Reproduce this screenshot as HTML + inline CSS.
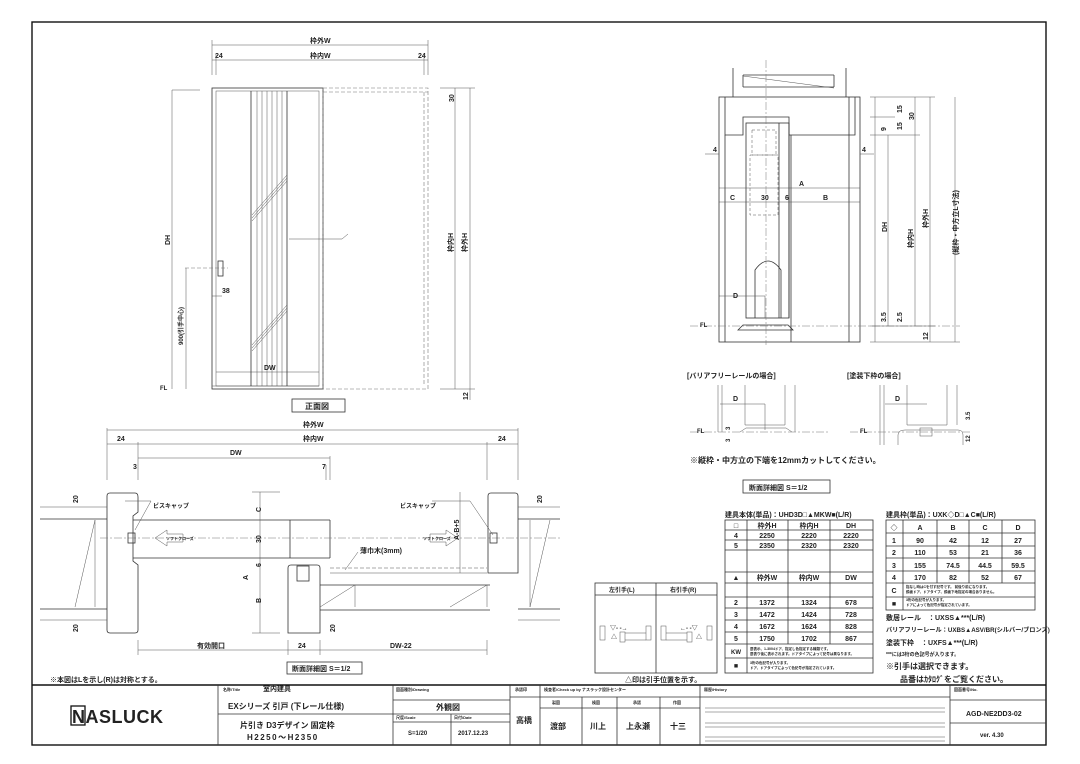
<!DOCTYPE html>
<html><head><meta charset="utf-8"><style>
html,body{margin:0;padding:0;background:#fff}
svg{display:block}
text{font-family:"Liberation Sans","Noto Sans CJK JP",sans-serif;fill:#222;font-weight:bold}
.l{stroke:#333;stroke-width:0.8;fill:none}
.t{stroke:#555;stroke-width:0.5;fill:none}
.d{stroke:#777;stroke-width:0.6;fill:none;stroke-dasharray:4 2}
.c{stroke:#777;stroke-width:0.5;fill:none;stroke-dasharray:8 2 2 2}
.b{stroke:#111;stroke-width:1.4;fill:none}
</style></head><body>
<svg width="1080" height="764" viewBox="0 0 1080 764" xmlns="http://www.w3.org/2000/svg">
<rect x="0" y="0" width="1080" height="764" fill="#fff"/>
<rect x="32" y="22" width="1014" height="723" class="b"/>

<!-- ===== Front elevation ===== -->
<g font-size="7">
<line x1="212" y1="45" x2="428" y2="45" class="t"/><text x="310" y="43">枠外W</text>
<line x1="212" y1="60" x2="428" y2="60" class="t"/><text x="310" y="58">枠内W</text>
<text x="215" y="58">24</text><text x="418" y="58">24</text>
<line x1="212" y1="40" x2="212" y2="75" class="t"/><line x1="216" y1="55" x2="216" y2="75" class="t"/>
<line x1="428" y1="40" x2="428" y2="75" class="t"/><line x1="424" y1="55" x2="424" y2="75" class="t"/>
</g>
<rect x="212" y="88" width="111" height="301" class="l"/>
<rect x="216" y="91" width="103" height="295" class="t"/>
<line x1="216" y1="372" x2="319" y2="372" class="t"/>
<line x1="212" y1="386" x2="319" y2="386" class="t"/>
<g class="l">
<line x1="251" y1="91" x2="251" y2="386"/><line x1="287" y1="91" x2="287" y2="386"/>
</g>
<g class="t">
<line x1="257" y1="91" x2="257" y2="386"/><line x1="262" y1="91" x2="262" y2="386"/>
<line x1="267" y1="91" x2="267" y2="386"/><line x1="272" y1="91" x2="272" y2="386"/>
<line x1="277" y1="91" x2="277" y2="386"/><line x1="282" y1="91" x2="282" y2="386"/>
<line x1="252" y1="215" x2="287" y2="175"/><line x1="252" y1="218" x2="287" y2="178"/><line x1="252" y1="221" x2="287" y2="181"/>
<line x1="252" y1="345" x2="287" y2="305"/><line x1="252" y1="348" x2="287" y2="308"/><line x1="252" y1="351" x2="287" y2="311"/>
<line x1="289" y1="239" x2="342" y2="239"/><line x1="342" y1="239" x2="348" y2="234"/>
</g>
<rect x="323" y="88" width="105" height="301" class="d"/>
<line x1="424" y1="92" x2="424" y2="386" class="d"/>
<line x1="323" y1="92" x2="428" y2="92" class="d"/>
<rect x="218" y="261" width="5" height="15" class="l"/>
<line x1="185" y1="268" x2="228" y2="268" class="d"/>
<g font-size="7">
<line x1="172" y1="90" x2="200" y2="90" class="t"/><line x1="172" y1="90" x2="172" y2="389" class="t"/>
<text transform="translate(170,245) rotate(-90)">DH</text>
<line x1="186" y1="268" x2="186" y2="389" class="t"/>
<text transform="translate(183,345) rotate(-90)" font-size="6">900(引手中心)</text>
<text x="222" y="293">38</text><line x1="212" y1="296" x2="222" y2="296" class="t"/>
<text x="160" y="390" font-size="6">FL</text>
<line x1="455" y1="88" x2="455" y2="389" class="t"/><line x1="470" y1="88" x2="470" y2="400" class="t"/>
<line x1="440" y1="88" x2="475" y2="88" class="t"/><line x1="440" y1="389" x2="475" y2="389" class="t"/>
<text transform="translate(454,102) rotate(-90)">30</text>
<text transform="translate(453,252) rotate(-90)">枠内H</text>
<text transform="translate(467,252) rotate(-90)">枠外H</text>
<text transform="translate(468,400) rotate(-90)">12</text>
<text x="264" y="370">DW</text>
</g>
<rect x="292" y="399" width="53" height="13" class="l"/>
<text x="305" y="409" font-size="8">正面図</text>

<!-- ===== Plan section ===== -->
<g font-size="7">
<line x1="107" y1="430" x2="518" y2="430" class="t"/><text x="303" y="427">枠外W</text>
<line x1="107" y1="444" x2="518" y2="444" class="t"/><text x="303" y="441">枠内W</text>
<text x="117" y="441">24</text><text x="498" y="441">24</text>
<line x1="138" y1="458" x2="330" y2="458" class="t"/><text x="230" y="455">DW</text>
<text x="133" y="469">3</text><text x="322" y="469">7</text>
<line x1="107" y1="428" x2="107" y2="480" class="t"/><line x1="518" y1="428" x2="518" y2="480" class="t"/>
<line x1="138" y1="442" x2="138" y2="480" class="t"/><line x1="487" y1="442" x2="487" y2="480" class="t"/>
<line x1="330" y1="456" x2="330" y2="480" class="t"/><line x1="326" y1="465" x2="326" y2="480" class="t"/>
</g>
<path d="M110,493 H135 Q138,493 138,497 V512 L133,516 V561 L138,565 V630 Q138,633 135,633 H110 Q107,633 107,630 V496 Q107,493 110,493 Z" class="l"/>
<path d="M491,493 H515 Q518,493 518,496 V573 H488 V496 Q488,493 491,493 Z" class="l"/>
<path d="M291,565 H317 Q320,565 320,568 V633 H288 V568 Q288,565 291,565 Z" class="l"/>
<g class="l">
<line x1="133" y1="520" x2="330" y2="520"/><line x1="133" y1="558" x2="330" y2="558"/>
<line x1="290" y1="520" x2="290" y2="558"/><line x1="330" y1="520" x2="330" y2="558"/>
<line x1="40" y1="519" x2="107" y2="519"/><line x1="40" y1="609" x2="107" y2="609"/>
<line x1="518" y1="519" x2="560" y2="519"/><line x1="518" y1="609" x2="560" y2="609"/>
<line x1="320" y1="585" x2="490" y2="585"/><line x1="320" y1="610" x2="490" y2="610"/>
</g>
<g class="t">
<line x1="40" y1="507" x2="107" y2="507"/><line x1="40" y1="620" x2="107" y2="620"/>
<line x1="518" y1="507" x2="560" y2="507"/><line x1="518" y1="620" x2="560" y2="620"/>
<line x1="75" y1="607" x2="95" y2="520"/><line x1="95" y1="520" x2="95" y2="607"/>
<line x1="530" y1="607" x2="550" y2="520"/><line x1="530" y1="520" x2="530" y2="607"/>
<line x1="320" y1="607" x2="355" y2="585"/><line x1="487" y1="607" x2="487" y2="585"/><line x1="450" y1="607" x2="487" y2="585"/>
<line x1="355" y1="585" x2="355" y2="607"/>
<line x1="260" y1="492" x2="260" y2="633"/><line x1="252" y1="492" x2="280" y2="492"/><line x1="252" y1="633" x2="280" y2="633"/>
<line x1="460" y1="492" x2="460" y2="573"/>
<line x1="138" y1="650" x2="288" y2="650"/><line x1="288" y1="650" x2="320" y2="650"/><line x1="320" y1="650" x2="487" y2="650"/>
<line x1="288" y1="640" x2="288" y2="655"/><line x1="320" y1="640" x2="320" y2="655"/><line x1="487" y1="640" x2="487" y2="655"/><line x1="138" y1="640" x2="138" y2="655"/>
<line x1="330" y1="568" x2="487" y2="568" stroke-dasharray="4 2"/>
<line x1="330" y1="573" x2="487" y2="573"/>
<line x1="125" y1="501" x2="151" y2="501"/><line x1="151" y1="501" x2="135" y2="530"/>
<line x1="432" y1="501" x2="470" y2="501"/><line x1="470" y1="501" x2="493" y2="535"/>
<line x1="358" y1="552" x2="345" y2="570"/>
</g>
<line x1="100" y1="538" x2="560" y2="538" class="c"/>
<g class="t">
<path d="M155,538 l12,-8 v4 h16 v8 h-16 v4 z"/>
<path d="M458,538 l-12,-8 v4 h-16 v8 h16 v4 z"/>
</g>
<rect x="128" y="533" width="7" height="10" class="l"/>
<rect x="490" y="533" width="7" height="10" class="l"/>
<rect x="297" y="566" width="12" height="15" class="l"/>
<g font-size="6">
<text x="153" y="508">ビスキャップ</text><text x="400" y="508">ビスキャップ</text>
<text x="166" y="540" font-size="4">ソフトクローズ</text><text x="423" y="540" font-size="4">ソフトクローズ</text>
<text x="360" y="553" font-size="7">薄巾木(3mm)</text>
</g>
<g font-size="7">
<text transform="translate(78,503) rotate(-90)">20</text><text transform="translate(78,632) rotate(-90)">20</text>
<text transform="translate(542,503) rotate(-90)">20</text><text transform="translate(335,632) rotate(-90)">20</text>
<text transform="translate(261,512) rotate(-90)">C</text><text transform="translate(261,543) rotate(-90)">30</text>
<text transform="translate(261,567) rotate(-90)">6</text><text transform="translate(248,580) rotate(-90)">A</text>
<text transform="translate(261,603) rotate(-90)">B</text><text transform="translate(459,540) rotate(-90)">A-B+5</text>
<text x="197" y="648">有効開口</text><text x="298" y="648">24</text><text x="390" y="648">DW-22</text>
<text x="50" y="682">※本図はLを示し(R)は対称とする。</text>
</g>
<rect x="287" y="662" width="75" height="12" class="l"/>
<text x="292" y="671" font-size="7">断面詳細図 S＝1/2</text>

<!-- ===== Right vertical section ===== -->
<g class="l">
<line x1="733" y1="68" x2="733" y2="97"/><line x1="846" y1="68" x2="846" y2="97"/>
<line x1="743" y1="75" x2="834" y2="75"/><line x1="743" y1="87" x2="834" y2="87"/>
<line x1="743" y1="75" x2="743" y2="87"/><line x1="834" y1="75" x2="834" y2="87"/>
<rect x="719" y="97" width="141" height="245"/>
<path d="M725,97 V135 H743 V117 H789 V135 H855 V97"/>
<rect x="746" y="123" width="43" height="195"/>
<line x1="779" y1="123" x2="779" y2="318"/><line x1="789" y1="123" x2="789" y2="318"/>
<line x1="791" y1="135" x2="791" y2="342"/><line x1="849" y1="97" x2="849" y2="342"/><line x1="725" y1="135" x2="725" y2="342"/>
<path d="M755,318 V270 Q768,252 781,270 V318" />
<path d="M738,330 l5,-5 h45 l5,5 z"/>
</g>
<g class="t">
<line x1="743" y1="76" x2="834" y2="88" />
<rect x="752" y="130" width="24" height="25" stroke-dasharray="3 2"/>
<rect x="750" y="155" width="28" height="60" stroke-dasharray="3 2"/>
<line x1="719" y1="188" x2="860" y2="188"/><line x1="719" y1="202" x2="860" y2="202"/>
<line x1="719" y1="296" x2="765" y2="296"/><line x1="765" y1="296" x2="765" y2="318"/>
<line x1="705" y1="154" x2="719" y2="154"/><line x1="860" y1="154" x2="874" y2="154"/>
</g>
<line x1="766" y1="60" x2="766" y2="345" class="c"/>
<line x1="690" y1="326" x2="960" y2="326" class="c"/>
<g font-size="7">
<text x="713" y="152">4</text><text x="862" y="152">4</text>
<text x="799" y="186">A</text><text x="730" y="200">C</text><text x="761" y="200">30</text><text x="785" y="200">6</text><text x="823" y="200">B</text>
<text x="733" y="298">D</text><text x="700" y="327" font-size="6">FL</text>
<g class="t">
<line x1="875" y1="97" x2="875" y2="342"/><line x1="888" y1="135" x2="888" y2="326"/>
<line x1="915" y1="97" x2="915" y2="326"/><line x1="930" y1="97" x2="930" y2="342"/><line x1="955" y1="97" x2="955" y2="342"/>
<line x1="870" y1="97" x2="935" y2="97"/><line x1="870" y1="135" x2="920" y2="135"/><line x1="870" y1="342" x2="960" y2="342"/>
<line x1="870" y1="117" x2="895" y2="117"/><line x1="870" y1="326" x2="935" y2="326"/>
</g>
<text transform="translate(902,113) rotate(-90)">15</text><text transform="translate(902,130) rotate(-90)">15</text>
<text transform="translate(914,120) rotate(-90)">30</text><text transform="translate(886,131) rotate(-90)">9</text>
<text transform="translate(887,232) rotate(-90)">DH</text><text transform="translate(913,248) rotate(-90)">枠内H</text>
<text transform="translate(928,228) rotate(-90)">枠外H</text><text transform="translate(958,255) rotate(-90)">(縦枠・中方立L寸法)</text>
<text transform="translate(886,322) rotate(-90)">3.5</text><text transform="translate(902,322) rotate(-90)">2.5</text>
<text transform="translate(928,340) rotate(-90)">12</text>
</g>

<!-- small details -->
<g font-size="7">
<text x="687" y="378">[バリアフリーレールの場合]</text><text x="847" y="378">[塗装下枠の場合]</text>
</g>
<g class="t">
<line x1="718" y1="385" x2="718" y2="432"/><line x1="722" y1="385" x2="722" y2="432"/>
<line x1="745" y1="385" x2="745" y2="425"/><line x1="785" y1="385" x2="785" y2="425"/><line x1="795" y1="385" x2="795" y2="432"/>
<line x1="745" y1="425" x2="785" y2="425"/><line x1="720" y1="404" x2="765" y2="404"/><line x1="765" y1="404" x2="765" y2="430"/>
<path d="M740,432 l6,-4 h40 l6,4"/>
<line x1="880" y1="385" x2="880" y2="445"/><line x1="884" y1="385" x2="884" y2="445"/>
<line x1="907" y1="385" x2="907" y2="425"/><line x1="947" y1="385" x2="947" y2="425"/><line x1="957" y1="385" x2="957" y2="425"/>
<line x1="907" y1="425" x2="947" y2="425"/><line x1="885" y1="404" x2="927" y2="404"/>
<path d="M898,445 V435 Q898,430 905,430 H958 Q963,430 963,435 V445"/>
<rect x="920" y="428" width="12" height="8"/>
</g>
<line x1="690" y1="432" x2="830" y2="432" class="c"/><line x1="850" y1="432" x2="970" y2="432" class="c"/>
<g font-size="7">
<text x="733" y="401">D</text><text x="895" y="401">D</text>
<text x="697" y="433" font-size="6">FL</text><text x="860" y="433" font-size="6">FL</text>
<text transform="translate(730,430) rotate(-90)" font-size="6">3</text><text transform="translate(730,442) rotate(-90)" font-size="6">3</text>
<text transform="translate(970,420) rotate(-90)" font-size="6">3.5</text><text transform="translate(970,442) rotate(-90)" font-size="6">12</text>
<text x="690" y="463" font-size="8">※縦枠・中方立の下端を12mmカットしてください。</text>
</g>
<rect x="743" y="480" width="87" height="13" class="l"/>
<text x="749" y="490" font-size="7">断面詳細図 S＝1/2</text>

<!-- hand box -->
<rect x="595" y="583" width="122" height="90" class="l"/>
<line x1="595" y1="595" x2="717" y2="595" class="l"/><line x1="656" y1="583" x2="656" y2="673" class="l"/>
<g font-size="6"><text x="609" y="592">左引手(L)</text><text x="670" y="592">右引手(R)</text></g>
<g class="t">
<rect x="600" y="626" width="5" height="14"/><rect x="646" y="626" width="5" height="14"/><rect x="620" y="632" width="5" height="10"/>
<line x1="625" y1="633" x2="646" y2="633"/><line x1="625" y1="640" x2="646" y2="640"/>
<rect x="661" y="626" width="5" height="14"/><rect x="707" y="626" width="5" height="14"/><rect x="687" y="632" width="5" height="10"/>
<line x1="666" y1="633" x2="687" y2="633"/><line x1="666" y1="640" x2="687" y2="640"/>
</g>
<g font-size="6"><text x="610" y="630">▽- -→</text><text x="611" y="639">△</text><text x="680" y="630">←- -▽</text><text x="696" y="639">△</text></g>
<text x="625" y="682" font-size="7">△印は引手位置を示す。</text>

<!-- table 1 -->
<text x="725" y="517" font-size="7">建具本体(単品)：UHD3D□▲MKW■(L/R)</text>
<g class="l">
<rect x="725" y="520" width="148" height="153"/>
<line x1="725" y1="530" x2="873" y2="530"/><line x1="725" y1="540" x2="873" y2="540"/><line x1="725" y1="550" x2="873" y2="550"/>
<line x1="725" y1="572" x2="873" y2="572"/><line x1="725" y1="583" x2="873" y2="583"/><line x1="725" y1="597" x2="873" y2="597"/>
<line x1="725" y1="608" x2="873" y2="608"/><line x1="725" y1="620" x2="873" y2="620"/><line x1="725" y1="632" x2="873" y2="632"/>
<line x1="725" y1="644" x2="873" y2="644"/><line x1="725" y1="658" x2="873" y2="658"/>
<line x1="747" y1="520" x2="747" y2="673"/><line x1="788" y1="520" x2="788" y2="644"/><line x1="830" y1="520" x2="830" y2="644"/>
</g>
<g font-size="7" text-anchor="middle">
<text x="736" y="528">□</text><text x="767" y="528">枠外H</text><text x="809" y="528">枠内H</text><text x="851" y="528">DH</text>
<text x="736" y="538">4</text><text x="767" y="538">2250</text><text x="809" y="538">2220</text><text x="851" y="538">2220</text>
<text x="736" y="548">5</text><text x="767" y="548">2350</text><text x="809" y="548">2320</text><text x="851" y="548">2320</text>
<text x="736" y="580">▲</text><text x="767" y="580">枠外W</text><text x="809" y="580">枠内W</text><text x="851" y="580">DW</text>
<text x="736" y="605">2</text><text x="767" y="605">1372</text><text x="809" y="605">1324</text><text x="851" y="605">678</text>
<text x="736" y="617">3</text><text x="767" y="617">1472</text><text x="809" y="617">1424</text><text x="851" y="617">728</text>
<text x="736" y="629">4</text><text x="767" y="629">1672</text><text x="809" y="629">1624</text><text x="851" y="629">828</text>
<text x="736" y="641">5</text><text x="767" y="641">1750</text><text x="809" y="641">1702</text><text x="851" y="641">867</text>
<text x="736" y="654" font-size="6">KW</text><text x="736" y="668">■</text>
</g>
<g font-size="3.5"><text x="750" y="650">扉表示、1-3004ドア、指定し色指定する種類です。</text><text x="750" y="655">扉表り後に表示されます。ドアタイプによって記号は異なります。</text>
<text x="750" y="664">3桁の色記号が入ります。</text><text x="750" y="669">ドア、ドアタイプによって色記号が指定されています。</text></g>

<!-- table 2 -->
<text x="886" y="517" font-size="7">建具枠(単品)：UXK◇D□▲C■(L/R)</text>
<g class="l">
<rect x="886" y="520" width="149" height="90"/>
<line x1="886" y1="533" x2="1035" y2="533"/><line x1="886" y1="546" x2="1035" y2="546"/><line x1="886" y1="558" x2="1035" y2="558"/>
<line x1="886" y1="571" x2="1035" y2="571"/><line x1="886" y1="583" x2="1035" y2="583"/><line x1="886" y1="597" x2="1035" y2="597"/>
<line x1="903" y1="520" x2="903" y2="610"/><line x1="937" y1="520" x2="937" y2="583"/><line x1="969" y1="520" x2="969" y2="583"/><line x1="1002" y1="520" x2="1002" y2="583"/>
</g>
<g font-size="7" text-anchor="middle">
<text x="894" y="530">◇</text><text x="920" y="530">A</text><text x="953" y="530">B</text><text x="985" y="530">C</text><text x="1018" y="530">D</text>
<text x="894" y="543">1</text><text x="920" y="543">90</text><text x="953" y="543">42</text><text x="985" y="543">12</text><text x="1018" y="543">27</text>
<text x="894" y="555">2</text><text x="920" y="555">110</text><text x="953" y="555">53</text><text x="985" y="555">21</text><text x="1018" y="555">36</text>
<text x="894" y="568">3</text><text x="920" y="568">155</text><text x="953" y="568">74.5</text><text x="985" y="568">44.5</text><text x="1018" y="568">59.5</text>
<text x="894" y="580">4</text><text x="920" y="580">170</text><text x="953" y="580">82</text><text x="985" y="580">52</text><text x="1018" y="580">67</text>
<text x="894" y="593">C</text><text x="894" y="606">■</text>
</g>
<g font-size="3.5"><text x="906" y="588">指なし時はCを付す記号です。 前後り前になります。</text><text x="906" y="593">鏡板ドア、ドアタイプ、鏡板下地指定の場合ありません。</text>
<text x="906" y="601">3桁の色記号が入ります。</text><text x="906" y="606">ドアによって色記号が指定されています。</text></g>
<g font-size="7">
<text x="886" y="620">敷居レール　：UXSS▲***(L/R)</text>
<text x="886" y="632" font-size="6.2">バリアフリーレール：UXBS▲ASV/BR(シルバー/ブロンズ)</text>
<text x="886" y="645">塗装下枠　：UXFS▲***(L/R)</text>
<text x="886" y="656" font-size="5">***には3桁の色記号が入ります。</text>
<text x="886" y="669" font-size="8">※引手は選択できます。</text>
<text x="900" y="682" font-size="8">品番はｶﾀﾛｸﾞをご覧ください。</text>
</g>

<!-- ===== Title block ===== -->
<g class="b"><line x1="32" y1="685" x2="1046" y2="685"/></g>
<g class="l">
<line x1="218" y1="685" x2="218" y2="745"/><line x1="393" y1="685" x2="393" y2="745"/>
<line x1="510" y1="685" x2="510" y2="745"/><line x1="540" y1="685" x2="540" y2="745"/>
<line x1="700" y1="685" x2="700" y2="745"/><line x1="950" y1="685" x2="950" y2="745"/>
<line x1="218" y1="714" x2="510" y2="714"/><line x1="451" y1="714" x2="451" y2="745"/>
<line x1="393" y1="700" x2="510" y2="700"/><line x1="393" y1="722" x2="510" y2="722"/>
<line x1="510" y1="697" x2="540" y2="697"/><line x1="540" y1="697" x2="700" y2="697"/><line x1="540" y1="708" x2="700" y2="708"/>
<line x1="582" y1="697" x2="582" y2="745"/><line x1="617" y1="697" x2="617" y2="745"/><line x1="660" y1="697" x2="660" y2="745"/>
<line x1="700" y1="697" x2="950" y2="697"/>
<line x1="950" y1="700" x2="1046" y2="700"/><line x1="950" y1="723" x2="1046" y2="723"/>
</g>
<g class="t">
<line x1="705" y1="708" x2="945" y2="708"/><line x1="705" y1="712" x2="945" y2="712"/>
<line x1="705" y1="723" x2="945" y2="723"/><line x1="705" y1="727" x2="945" y2="727"/>
<line x1="705" y1="737" x2="945" y2="737"/><line x1="705" y1="741" x2="945" y2="741"/>
</g>
<text x="72" y="723" font-size="18" font-weight="bold" style="letter-spacing:0.5px">NASLUCK</text>
<rect x="71" y="706" width="14" height="19" fill="none" stroke="#111" stroke-width="1.3"/>
<g font-size="4"><text x="223" y="691">名称/Title</text><text x="396" y="691">図面種別/Drawing</text><text x="515" y="691">承認印</text>
<text x="544" y="691">検査者/Check up by ナスラック設計センター</text><text x="704" y="691">履歴/History</text><text x="954" y="691">図面番号/No.</text>
<text x="396" y="719">尺度/Scale</text><text x="454" y="719">日付/Date</text>
<text x="552" y="704">製図</text><text x="592" y="704">検図</text><text x="633" y="704">承認</text><text x="673" y="704">作図</text></g>
<g font-size="8">
<text x="263" y="691" font-size="7">室内建具</text>
<text x="228" y="709">EXシリーズ 引戸 (下レール仕様)</text>
<text x="240" y="728">片引き D3デザイン 固定枠</text>
<text x="247" y="740" style="letter-spacing:1.5px">H2250～H2350</text>
<text x="436" y="710">外観図</text>
<text x="408" y="735" font-size="6">S=1/20</text><text x="458" y="735" font-size="6">2017.12.23</text>
<text x="516" y="723">高橋</text>
<text x="550" y="729">渡部</text><text x="590" y="729">川上</text><text x="626" y="729">上永瀬</text><text x="670" y="729">十三</text>
<text x="966" y="716" font-size="7">AGD-NE2DD3-02</text><text x="980" y="737" font-size="6">ver. 4.30</text>
</g>
</svg>
</body></html>
